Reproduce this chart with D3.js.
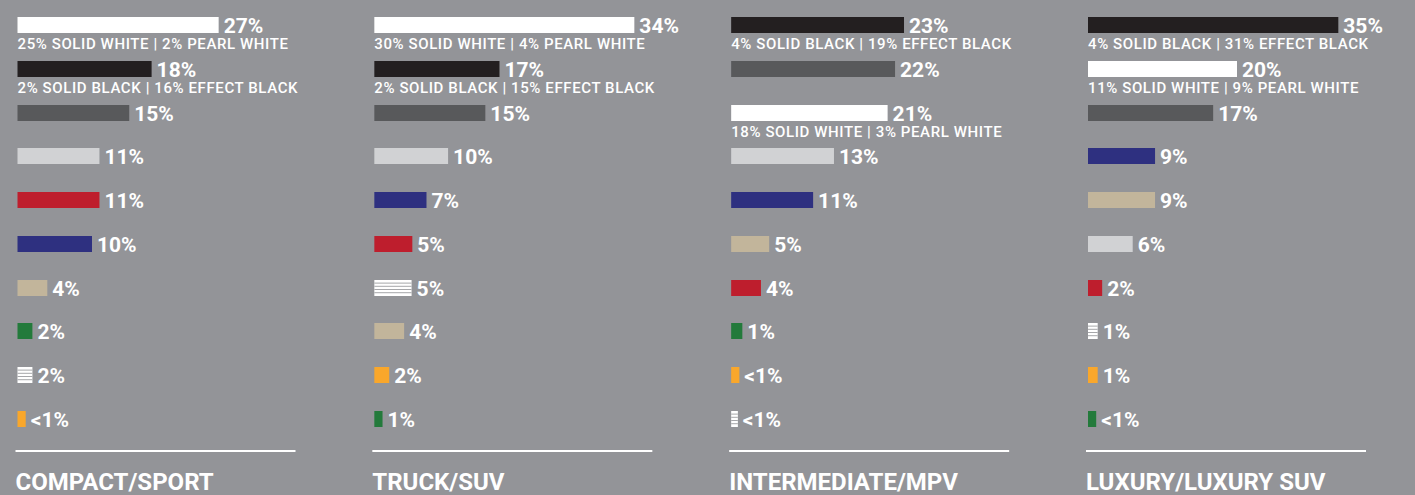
<!DOCTYPE html>
<html lang="en">
<head>
<meta charset="UTF-8"/>
<title>Colour popularity by vehicle segment</title>
<script src="https://d3js.org/d3.v7.min.js"></script>
<style>
	html, body { margin: 0; padding: 0; background: #939498; }
	svg { display: block; }
	text { font-family: Roboto, "DejaVu Sans", sans-serif; fill: #ffffff; }
</style>
</head>
<body>
<script>

	var w = 1415;
	var h = 495;

	// panel titles
	var segments = ["COMPACT/SPORT", "TRUCK/SUV", "INTERMEDIATE/MPV", "LUXURY/LUXURY SUV"];

	// colour key of each row, per segment
	var compactColors = ["white", "black", "gray", "silver", "red", "blue", "beige", "green", "stripe", "orange"];
	var truckColors   = ["white", "black", "gray", "silver", "blue", "red", "stripe", "beige", "orange", "green"];
	var interColors   = ["black", "gray", "white", "silver", "blue", "beige", "red", "green", "orange", "stripe"];
	var luxuryColors  = ["black", "white", "gray", "blue", "beige", "silver", "red", "stripe", "orange", "green"];

	// bar length (percent share)
	var compactValues = [27, 18, 15, 11, 11, 10, 4, 2, 2, 1.1];
	var truckValues   = [34.9, 16.8, 14.9, 9.9, 7, 5.1, 5, 4, 2, 1.1];
	var interValues   = [23.2, 22, 21, 13.8, 11, 5.1, 4, 1.5, 1.1, 0.9];
	var luxuryValues  = [33.6, 20, 16.8, 9, 9, 6, 1.9, 1.3, 1.3, 1.1];

	// printed labels
	var compactLabels = ["27%", "18%", "15%", "11%", "11%", "10%", "4%", "2%", "2%", "<1%"];
	var truckLabels   = ["34%", "17%", "15%", "10%", "7%", "5%", "5%", "4%", "2%", "1%"];
	var interLabels   = ["23%", "22%", "21%", "13%", "11%", "5%", "4%", "1%", "<1%", "<1%"];
	var luxuryLabels  = ["35%", "20%", "17%", "9%", "9%", "6%", "2%", "1%", "1%", "<1%"];

	// breakdown notes under some bars
	var compactNotes = ["25% SOLID WHITE | 2% PEARL WHITE", "2% SOLID BLACK | 16% EFFECT BLACK", "", "", "", "", "", "", "", ""];
	var truckNotes   = ["30% SOLID WHITE | 4% PEARL WHITE", "2% SOLID BLACK | 15% EFFECT BLACK", "", "", "", "", "", "", "", ""];
	var interNotes   = ["4% SOLID BLACK | 19% EFFECT BLACK", "", "18% SOLID WHITE | 3% PEARL WHITE", "", "", "", "", "", "", ""];
	var luxuryNotes  = ["4% SOLID BLACK | 31% EFFECT BLACK", "11% SOLID WHITE | 9% PEARL WHITE", "", "", "", "", "", "", "", ""];

	var allColors = [compactColors, truckColors, interColors, luxuryColors];
	var allValues = [compactValues, truckValues, interValues, luxuryValues];
	var allLabels = [compactLabels, truckLabels, interLabels, luxuryLabels];
	var allNotes  = [compactNotes, truckNotes, interNotes, luxuryNotes];

	var colorScale = d3.scaleOrdinal()
		.domain(["white", "black", "gray", "silver", "red", "blue", "beige", "green", "orange", "stripe"])
		.range(["#ffffff", "#231f20", "#58595b", "#d1d2d4", "#be1e2d", "#2e3080", "#c2b59b", "#237a3b", "#f9a72b", "#ffffff"]);

	var barH = 16;

	var panelX = d3.scaleLinear()
		.domain([0, 3])
		.range([17.5, 1088]);

	var rowY = d3.scaleLinear()
		.domain([0, 9])
		.range([17, 411]);

	var xScale = d3.scaleLinear()
		.domain([0, 35])
		.range([0, 260.75]);

	var svg = d3.select("body")
		.append("svg")
		.attr("width", w)
		.attr("height", h);

	segments.forEach(function(name, p) {
		var rows = allValues[p].map(function(v, i) {
			return { value: v, color: allColors[p][i], label: allLabels[p][i], note: allNotes[p][i], i: i };
		});

		var g = svg.append("g")
			.attr("transform", "translate(" + panelX(p) + ",0)");

		g.selectAll("rect.bar")
			.data(rows)
			.enter()
			.append("rect")
			.attr("class", "bar")
			.attr("x", 0)
			.attr("y", function(d) { return Math.round(rowY(d.i)); })
			.attr("width", function(d) { return xScale(d.value); })
			.attr("height", barH)
			.attr("fill", function(d) { return colorScale(d.color); });

		// grey lines across the striped bar
		rows.filter(function(d) { return d.color === "stripe"; }).forEach(function(d) {
			var top = Math.round(rowY(d.i));
			g.selectAll(null)
				.data([1, 2, 3, 4])
				.enter()
				.append("rect")
				.attr("x", 0)
				.attr("y", function(k) { return top + k * 3.2 - 0.6; })
				.attr("width", xScale(d.value))
				.attr("height", 1)
				.attr("fill", "#a6a7aa");
		});

		g.selectAll("text.pct")
			.data(rows)
			.enter()
			.append("text")
			.attr("class", "pct")
			.attr("x", function(d) { return xScale(d.value) + 5; })
			.attr("y", function(d) { return Math.round(rowY(d.i)) + barH; })
			.style("font-size", "21px")
			.style("font-weight", "700")
			.text(function(d) { return d.label; });

		g.selectAll("text.note")
			.data(rows.filter(function(d) { return d.note; }))
			.enter()
			.append("text")
			.attr("class", "note")
			.attr("x", 0)
			.attr("y", function(d) { return Math.round(rowY(d.i)) + 32; })
			.style("font-size", "15px")
			.style("font-weight", "500")
			.style("letter-spacing", "0.6px")
			.text(function(d) { return d.note; });

		g.append("rect")
			.attr("x", -2)
			.attr("y", 450)
			.attr("width", 280)
			.attr("height", 2)
			.attr("fill", "#ffffff");

		g.append("text")
			.attr("x", -2)
			.attr("y", 490)
			.style("font-size", "24px")
			.style("font-weight", "700")
			.text(name);
	});

</script>
</body>
</html>
